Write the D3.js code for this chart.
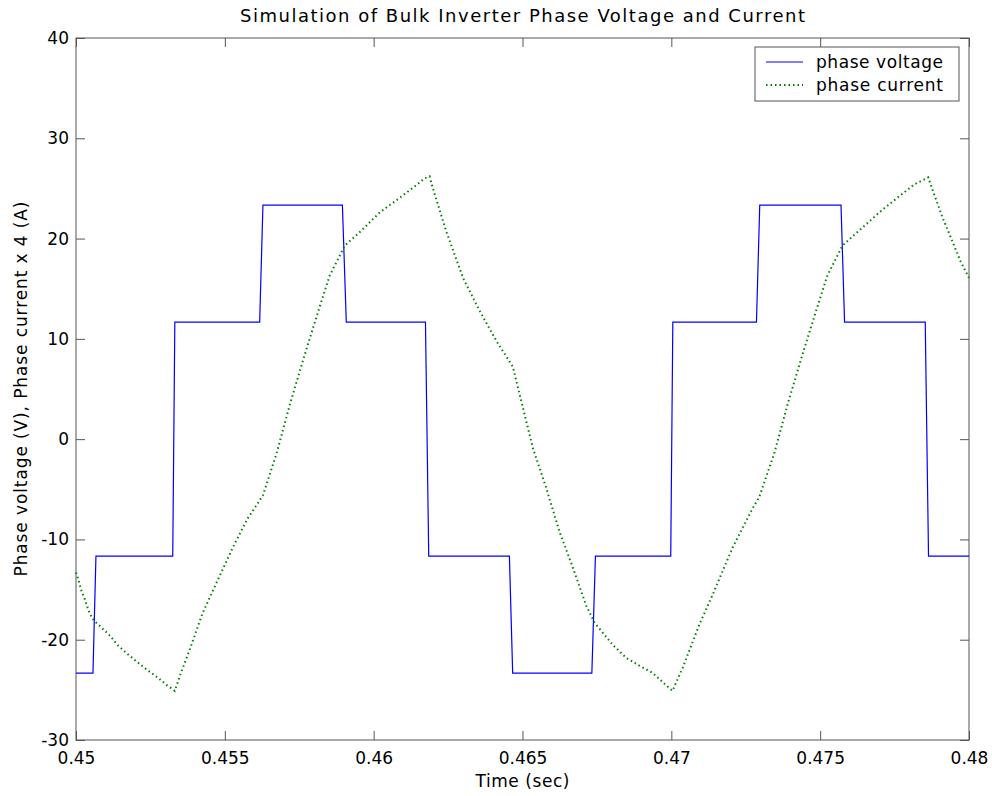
<!DOCTYPE html>
<html>
<head>
<meta charset="utf-8">
<script src="https://cdn.jsdelivr.net/npm/d3@7"></script>
<style>
  body { margin: 0; background: #fff; }
  svg { display: block; font-family: "DejaVu Sans", sans-serif; }
</style>
</head>
<body>
<svg id="chart" width="992" height="796"></svg>
<script>
// phase voltage vertices [time, volts]
const voltage = [
  [0.45, -23.33], [0.45057, -23.33], [0.45067, -11.67], [0.45325, -11.67],
  [0.45332, 11.67], [0.45617, 11.67], [0.45628, 23.33], [0.45895, 23.33],
  [0.45908, 11.67], [0.46174, 11.67], [0.46185, -11.67], [0.46456, -11.67],
  [0.46467, -23.33], [0.46733, -23.33], [0.46745, -11.67], [0.46998, -11.67],
  [0.47005, 11.67], [0.47286, 11.67], [0.47297, 23.33], [0.47570, 23.33],
  [0.47582, 11.67], [0.47853, 11.67], [0.47864, -11.67], [0.48, -11.67]
];

// phase current x 4
const current = [
  [0.45, -13.3], [0.45008, -14.0], [0.45019, -15.2], [0.45030, -16.0],
  [0.45041, -17.0], [0.45053, -17.8], [0.45064, -18.2], [0.45086, -18.8],
  [0.45114, -19.6], [0.45142, -20.6], [0.45176, -21.5], [0.45209, -22.3],
  [0.45243, -23.1], [0.45276, -23.8], [0.45304, -24.5], [0.45332, -25.1],
  [0.45349, -23.6], [0.45383, -20.9], [0.45426, -17.3], [0.45477, -14.0],
  [0.45527, -10.8], [0.45577, -7.9], [0.45628, -5.6], [0.45674, -1.4],
  [0.45718, 3.4], [0.45763, 7.9], [0.45808, 12.2], [0.45852, 16.3],
  [0.45903, 19.3], [0.45959, 20.8], [0.46020, 22.6], [0.46071, 23.7],
  [0.46138, 25.2], [0.46171, 26.0], [0.46188, 26.2], [0.46198, 25.1],
  [0.46244, 20.7], [0.46300, 16.1], [0.46356, 12.8], [0.46412, 9.8],
  [0.46468, 7.2], [0.46490, 4.5], [0.46535, -0.9], [0.46580, -4.9],
  [0.46624, -9.2], [0.46669, -12.8], [0.46714, -16.6], [0.46742, -18.3],
  [0.46803, -20.5], [0.46848, -21.8], [0.46893, -22.6], [0.46937, -23.3],
  [0.46977, -24.4], [0.47004, -25.1], [0.47038, -22.8], [0.47094, -18.5],
  [0.47139, -15.5], [0.47206, -10.8], [0.47273, -6.9], [0.47295, -5.8],
  [0.47346, -1.4], [0.47390, 3.4], [0.47435, 7.9], [0.47480, 12.2],
  [0.47524, 16.3], [0.47575, 19.3], [0.47631, 20.8], [0.47698, 22.6],
  [0.47765, 24.2], [0.47816, 25.4], [0.47863, 26.1], [0.47877, 24.9],
  [0.47911, 22.1], [0.47939, 20.1], [0.47972, 17.7], [0.48, 16.1]
];

const xTicks = [0.45, 0.455, 0.46, 0.465, 0.47, 0.475, 0.48];
const xTickLabels = ["0.45", "0.455", "0.46", "0.465", "0.47", "0.475", "0.48"];
const yTicks = [-30, -20, -10, 0, 10, 20, 30, 40];
const seriesNames = ["phase voltage", "phase current"];

const margin = { left: 76, top: 38, right: 23, bottom: 56 };
const W = 992, H = 796;
const svg = d3.select("#chart");

const x = d3.scaleLinear().domain([0.45, 0.48]).range([margin.left, W - margin.right]);
const y = d3.scaleLinear().domain([-30, 40]).range([H - margin.bottom, margin.top]);

const axisColor = "#555";
const tickLen = 9;

// box
svg.append("rect")
  .attr("x", x(0.45)).attr("y", y(40))
  .attr("width", x(0.48) - x(0.45)).attr("height", y(-30) - y(40))
  .attr("fill", "none").attr("stroke", axisColor).attr("stroke-width", 1);

// axes, ticks point inward
const fmt = (d, i) => xTickLabels[i];
const axBottom = svg.append("g").attr("transform", `translate(0,${y(-30)})`)
  .call(d3.axisBottom(x).tickValues(xTicks).tickFormat(fmt).tickSizeInner(-tickLen).tickSizeOuter(0).tickPadding(12));
const axTop = svg.append("g").attr("transform", `translate(0,${y(40)})`)
  .call(d3.axisTop(x).tickValues(xTicks).tickFormat("").tickSizeInner(-tickLen).tickSizeOuter(0));
const axLeft = svg.append("g").attr("transform", `translate(${x(0.45)},0)`)
  .call(d3.axisLeft(y).tickValues(yTicks).tickFormat(d => String(d))
    .tickSizeInner(-tickLen).tickSizeOuter(0).tickPadding(7));
const axRight = svg.append("g").attr("transform", `translate(${x(0.48)},0)`)
  .call(d3.axisRight(y).tickValues(yTicks).tickFormat("").tickSizeInner(-tickLen).tickSizeOuter(0));

[axBottom, axTop, axLeft, axRight].forEach(g => {
  g.select(".domain").remove();
  g.selectAll(".tick line").attr("stroke", axisColor);
  g.selectAll(".tick text").attr("fill", "#000").style("font-size", "17px")
    .style("font-family", "'DejaVu Sans', sans-serif");
});

// lines
const line = d3.line().x(d => x(d[0])).y(d => y(d[1]));
svg.append("path").datum(voltage)
  .attr("d", line).attr("fill", "none").attr("stroke", "#0000ff").attr("stroke-width", 1.2);
svg.append("path").datum(current)
  .attr("d", line).attr("fill", "none").attr("stroke", "#008000")
  .attr("stroke-width", 2).attr("stroke-dasharray", "1.5,3");

// title and labels
svg.append("text").attr("x", (x(0.45) + x(0.48)) / 2).attr("y", 22)
  .attr("text-anchor", "middle").style("font-size", "18px")
  .attr("textLength", 565).attr("lengthAdjust", "spacing")
  .text("Simulation of Bulk Inverter Phase Voltage and Current");
svg.append("text").attr("x", (x(0.45) + x(0.48)) / 2).attr("y", 787)
  .attr("text-anchor", "middle").style("font-size", "17px")
  .attr("textLength", 94).attr("lengthAdjust", "spacing")
  .text("Time (sec)");
svg.append("text")
  .attr("transform", `translate(27,${(y(40) + y(-30)) / 2}) rotate(-90)`)
  .attr("text-anchor", "middle").style("font-size", "17px")
  .attr("textLength", 375).attr("lengthAdjust", "spacing")
  .text("Phase voltage (V), Phase current x 4 (A)");

// legend
const lg = svg.append("g").attr("transform", "translate(755,47)");
lg.append("rect").attr("width", 204).attr("height", 54)
  .attr("fill", "#fff").attr("stroke", axisColor);
const styles = [
  { stroke: "#0000ff", width: 1.2, dash: null },
  { stroke: "#008000", width: 2, dash: "1.5,3" }
];
seriesNames.forEach((name, i) => {
  const yy = 15 + i * 23;
  lg.append("line").attr("x1", 11).attr("x2", 48).attr("y1", yy).attr("y2", yy)
    .attr("stroke", styles[i].stroke).attr("stroke-width", styles[i].width)
    .attr("stroke-dasharray", styles[i].dash);
  lg.append("text").attr("x", 61).attr("y", yy + 6).style("font-size", "17px")
    .attr("textLength", 127).attr("lengthAdjust", "spacing").text(name);
});
</script>
</body>
</html>
